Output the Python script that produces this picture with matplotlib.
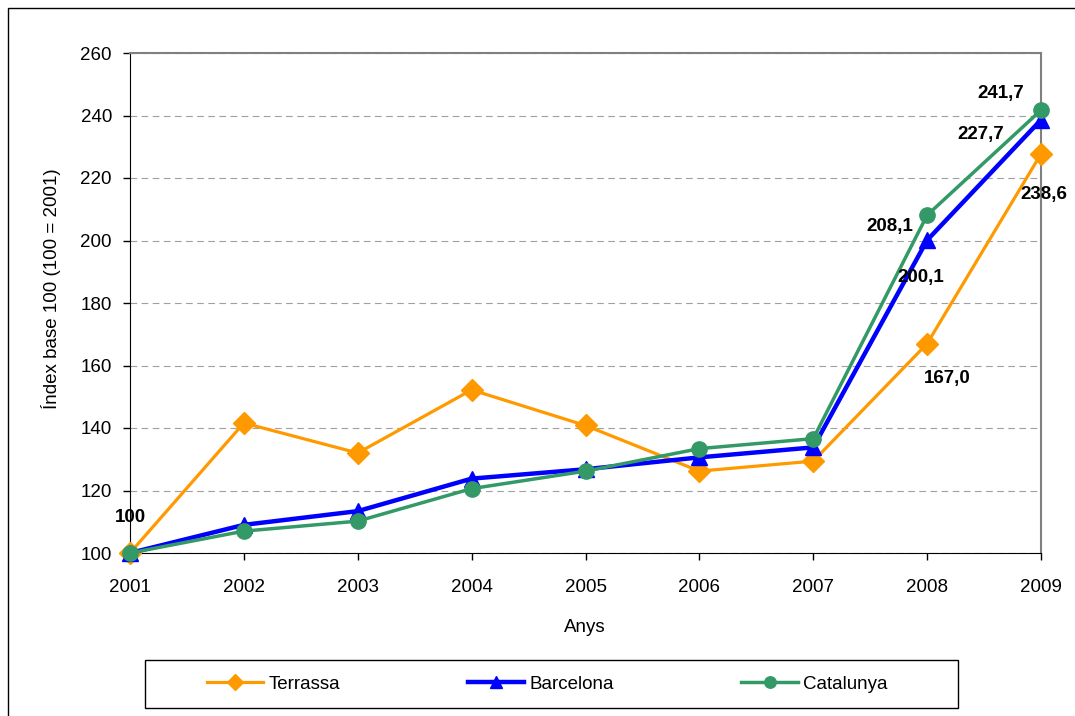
import matplotlib.pyplot as plt
from matplotlib.patches import Rectangle

plt.rcParams['font.family'] = ['Liberation Sans', 'DejaVu Sans']

# Data
years = [2001, 2002, 2003, 2004, 2005, 2006, 2007, 2008, 2009]
terrassa = [100, 141.6, 132.0, 152.2, 140.8, 126.2, 129.4, 167.0, 227.7]
barcelona = [100, 109.0, 113.4, 123.8, 126.8, 130.6, 133.8, 200.1, 238.6]
catalunya = [100, 107.0, 110.2, 120.6, 126.2, 133.4, 136.6, 208.1, 241.7]

# Point labels as printed in the original (year, value position, text)
label_years = [2001, 2009, 2009, 2008, 2008, 2009, 2008]
label_values = [100, 241.7, 238.6, 208.1, 200.1, 227.7, 167.0]
label_texts = ['100', '241,7', '227,7', '208,1', '200,1', '238,6', '167,0']
label_offsets = [(0, 11.5), (-0.35, 5.2), (-0.53, -4.8), (-0.33, -3.5), (-0.06, -12), (-0.18, -13), (0.18, -11)]
label_align = ['center', 'center', 'center', 'center', 'center', 'left', 'center']

fig = plt.figure(figsize=(10.75, 7.16), dpi=100)
ax = fig.add_axes([130 / 1075, 1 - 553 / 716, 911 / 1075, 500 / 716])

# outer chart border (left/top visible only)
fig.patches.append(Rectangle((8 / 1075, -0.05), 1.1, 1.05 - 8 / 716, transform=fig.transFigure,
                             fill=False, edgecolor='black', linewidth=1.0))

ax.plot(years, terrassa, color='#FF9900', linewidth=2.3, marker='D', markersize=11,
        label='Terrassa', clip_on=False, zorder=3)
ax.plot(years, barcelona, color='#0000FF', linewidth=3.2, marker='^', markersize=11,
        label='Barcelona', clip_on=False, zorder=4)
ax.plot(years, catalunya, color='#339966', linewidth=2.5, marker='o', markersize=11,
        label='Catalunya', clip_on=False, zorder=5)

for yr, val, txt, (dx, dy), ha in zip(label_years, label_values, label_texts, label_offsets, label_align):
    ax.text(yr + dx, val + dy, txt, fontsize=13.5, fontweight='bold', ha=ha, va='center',
            clip_on=False, zorder=6)

ax.set_xlim(2001, 2009)
ax.set_ylim(100, 260)
ax.set_xticks(years)
ax.set_yticks(range(100, 261, 20))
ax.tick_params(axis='both', direction='out', length=5, labelsize=13.5, width=1)
ax.tick_params(axis='x', pad=13.5)
ax.tick_params(axis='y', pad=8)

ax.yaxis.grid(True, linestyle=(0, (6, 4)), color='#a0a0a0', linewidth=0.8)
ax.set_axisbelow(True)
ax.spines['top'].set_color('#808080')
ax.spines['right'].set_color('#808080')
ax.spines['top'].set_linewidth(1.5)
ax.spines['right'].set_linewidth(1.5)

ax.set_xlabel('Anys', fontsize=13.5, va='center')
ax.xaxis.set_label_coords((585 - 130) / 911, (553 - 627) / 500)
ax.set_ylabel('Índex base 100 (100 = 2001)', fontsize=13.5, va='center')
ax.yaxis.set_label_coords((51 - 130) / 911, (553 - 289) / 500)

# legend frame drawn separately, entries spread inside it
fig.patches.append(Rectangle((145 / 1075, 1 - 708 / 716), 813 / 1075, 48 / 716,
                             transform=fig.transFigure, fill=False, edgecolor='black', linewidth=1.0))
leg = fig.legend(loc='center left', ncol=3, bbox_to_anchor=(199 / 1075, 1 - 684 / 716),
                 fontsize=13.5, frameon=False, handlelength=3.0, handletextpad=0.3,
                 columnspacing=6.8, borderaxespad=0, markerscale=0.75)

plt.savefig('out.png', dpi=100)
